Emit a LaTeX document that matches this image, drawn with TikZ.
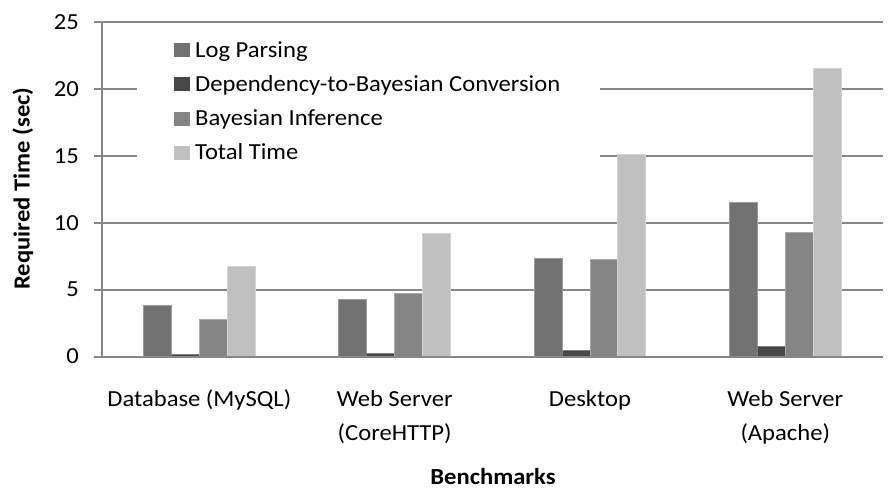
\documentclass[tikz,border=0pt]{standalone}
\usepackage{fontspec}
\setmainfont{Carlito}[FakeStretch=1.07]
\definecolor{logc}{HTML}{727272}
\definecolor{depc}{HTML}{474747}
\definecolor{bayc}{HTML}{858585}
\definecolor{totc}{HTML}{C0C0C0}
\definecolor{axc}{HTML}{878787}
\tikzset{
  axisline/.style={draw=axc, line width=2pt},
  gridline/.style={draw=axc, line width=2pt},
  ticklab/.style={anchor=east, inner sep=0pt},
  catlab/.style={anchor=base, inner sep=0pt, align=center},
  legtext/.style={anchor=base west, inner sep=0pt},
  legkey/.style={anchor=south west, inner sep=0pt, minimum width=16.5pt, minimum height=14pt},
  bar/.style={line width=0.8pt},
}
\begin{document}
\begin{tikzpicture}[x=1pt, y=-1pt, font=\fontsize{23}{34}\selectfont]
\useasboundingbox (0,0) rectangle (888,490);
% plot frame: x from 101.7 to 883, value 0 at y=356.5, 13.37 px per second
\def\yzero{356.5}
\def\yunit{13.37}
\def\xleft{101.7}
\def\catw{195.3}
\def\barw{27.9}

% horizontal gridlines with their tick marks and labels
\foreach \v in {5,10,15,20,25}{
  \pgfmathsetmacro{\yy}{\yzero-\v*\yunit}
  \draw[gridline] (94,\yy) -- (883,\yy);
}
\foreach \v in {0,5,10,15,20,25}{
  \pgfmathsetmacro{\yy}{\yzero-\v*\yunit}
  \node[ticklab] (t\v) at (79,\yy) {\v};
}

% legend (white panel over the gridlines)
\fill[white] (137,25) rectangle (600,185);
\node[legkey, fill=logc] (k1) at (173.5,57.3) {};
\node[legtext] (l1) at (195,57.3) {Log Parsing};
\node[legkey, fill=depc] (k2) at (173.5,91.5) {};
\node[legtext] (l2) at (195,91.5) {Dependency-to-Bayesian Conversion};
\node[legkey, fill=bayc] (k3) at (173.5,125.7) {};
\node[legtext] (l3) at (195,125.7) {Bayesian Inference};
\node[legkey, fill=totc] (k4) at (173.5,159.9) {};
\node[legtext] (l4) at (195,159.9) {Total Time};

% bars: log parsing / conversion / inference / total, per benchmark
\foreach \i/\a/\b/\c/\d in {0/3.8/0.16/2.75/6.75, 1/4.3/0.2/4.7/9.24, 2/7.32/0.46/7.25/15.12, 3/11.54/0.73/9.27/21.57}{
  \pgfmathsetmacro{\xs}{\xleft+\i*\catw+1.5*\barw}
  \foreach \j/\val/\col in {0/\a/logc, 1/\b/depc, 2/\c/bayc, 3/\d/totc}{
    \pgfmathsetmacro{\xa}{\xs+\j*\barw}
    \pgfmathsetmacro{\xb}{\xa+\barw}
    \pgfmathsetmacro{\yt}{\yzero-\val*\yunit}
    \filldraw[bar, fill=\col, draw=\col!70!white] (\xa,\yzero) rectangle (\xb,\yt);
  }
}

% axes
\draw[axisline] (\xleft,22.3) -- (\xleft,\yzero);
\draw[axisline] (94,\yzero) -- (883,\yzero);

% category labels (base anchor sits on the last line)
\node[catlab] (c0) at (199.35,406.7) {Database (MySQL)};
\node[catlab] (c1) at (394.65,440.7) {Web Server\\(CoreHTTP)};
\node[catlab] (c2) at (589.95,406.7) {Desktop};
\node[catlab] (c3) at (785.25,440.7) {Web Server\\(Apache)};

% axis titles
\node[rotate=90, inner sep=0pt, font=\fontsize{23}{28}\selectfont\bfseries] (ylab) at (23,188.5) {Required Time (sec)};
\node[inner sep=0pt, font=\fontsize{23}{28}\selectfont\bfseries] (xlab) at (493,477) {Benchmarks};
\end{tikzpicture}
\end{document}
